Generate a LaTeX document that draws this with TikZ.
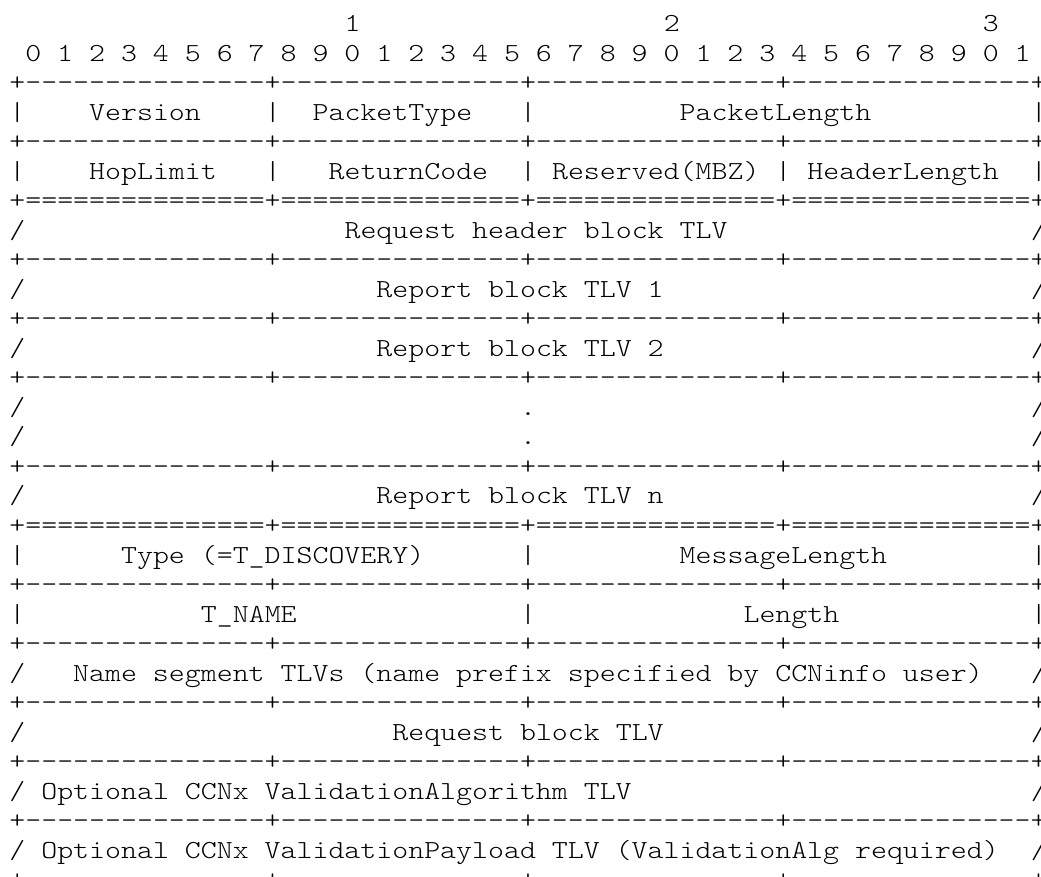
\documentclass[tikz,border=0pt]{standalone}
\usepackage{fontspec}
\setmonofont{Latin Modern Mono Light}[FakeStretch=1.169]
\def\cw{15.96}
\def\xo{9.4}
\def\yo{31.5}
\def\lp{29.53}
\tikzset{txt/.style={anchor=base west,inner sep=0pt,outer sep=0pt,font=\ttfamily\fontsize{26}{30}\selectfont,text=black}}
\newcommand\cell[4]{\node[txt] (#1) at ({\xo+#2*\cw},{-(\yo+(#3-1)*\lp)}) {#4};}
\newcommand\dashrow[2]{\cell{#1}{0}{#2}{+---------------+---------------+---------------+---------------+}}
\newcommand\eqrow[2]{\cell{#1}{0}{#2}{+===============+===============+===============+===============+}}
\newcommand\vbars[3]{\foreach \c in {#3}{\cell{#1\c}{\c}{#2}{|}}}
\newcommand\slashes[2]{\cell{#1l}{0}{#2}{/}\cell{#1r}{64}{#2}{/}}
\begin{document}
\begin{tikzpicture}[x=1pt,y=1pt]
\useasboundingbox (0,0) rectangle (1041,-877);
\clip (0,0) rectangle (1041,-877);
% bit ruler
\cell{ten1}{21}{1}{1}
\cell{ten2}{41}{1}{2}
\cell{ten3}{61}{1}{3}
\cell{bits}{1}{2}{0 1 2 3 4 5 6 7 8 9 0 1 2 3 4 5 6 7 8 9 0 1 2 3 4 5 6 7 8 9 0 1}
% fixed header
\dashrow{b3}{3}
\vbars{v4-}{4}{0,16,32,64}
\cell{version}{5}{4}{Version}
\cell{ptype}{19}{4}{PacketType}
\cell{plen}{42}{4}{PacketLength}
\dashrow{b5}{5}
\vbars{v6-}{6}{0,16,32,48,64}
\cell{hop}{5}{6}{HopLimit}
\cell{ret}{20}{6}{ReturnCode}
\cell{res}{34}{6}{Reserved(MBZ)}
\cell{hlen}{50}{6}{HeaderLength}
\eqrow{b7}{7}
% blocks
\slashes{s8}{8}
\cell{reqhdr}{21}{8}{Request header block TLV}
\dashrow{b9}{9}
\slashes{s10}{10}
\cell{rep1}{23}{10}{Report block TLV 1}
\dashrow{b11}{11}
\slashes{s12}{12}
\cell{rep2}{23}{12}{Report block TLV 2}
\dashrow{b13}{13}
\slashes{s14}{14}
\cell{dot1}{32}{14}{.}
\slashes{s15}{15}
\cell{dot2}{32}{15}{.}
\dashrow{b16}{16}
\slashes{s17}{17}
\cell{repn}{23}{17}{Report block TLV n}
\eqrow{b18}{18}
% message
\vbars{v19-}{19}{0,32,64}
\cell{type}{7}{19}{Type (=T\_DISCOVERY)}
\cell{mlen}{42}{19}{MessageLength}
\dashrow{b20}{20}
\vbars{v21-}{21}{0,32,64}
\cell{tname}{12}{21}{T\_NAME}
\cell{len}{46}{21}{Length}
\dashrow{b22}{22}
\slashes{s23}{23}
\cell{nseg}{4}{23}{Name segment TLVs (name prefix specified by CCNinfo user)}
\dashrow{b24}{24}
\slashes{s25}{25}
\cell{reqblk}{24}{25}{Request block TLV}
\dashrow{b26}{26}
\slashes{s27}{27}
\cell{valalg}{2}{27}{Optional CCNx ValidationAlgorithm TLV}
\dashrow{b28}{28}
\slashes{s29}{29}
\cell{valpay}{2}{29}{Optional CCNx ValidationPayload TLV (ValidationAlg required)}
\dashrow{b30}{30}
\end{tikzpicture}
\end{document}
